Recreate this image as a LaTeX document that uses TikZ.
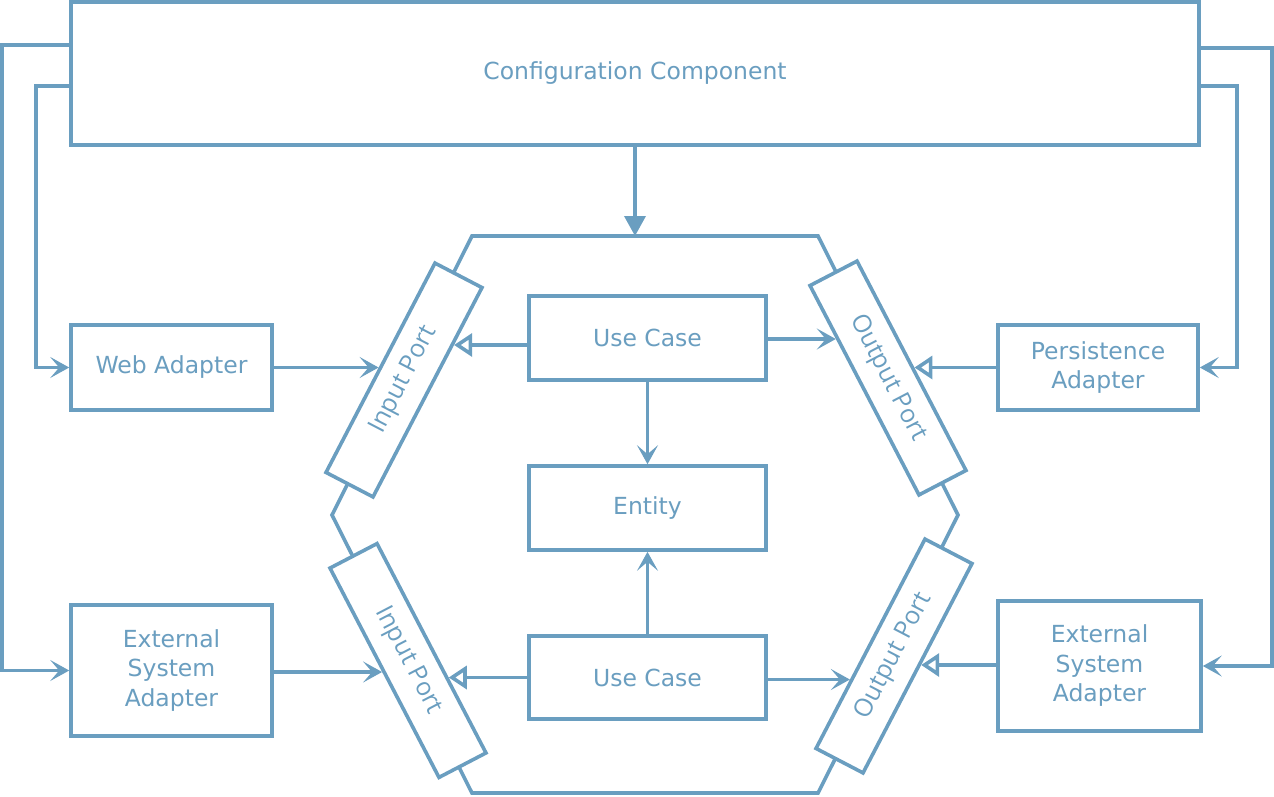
\documentclass[tikz,border=0pt]{standalone}
\usepackage{fontspec}
\setmainfont{DejaVu Sans}
\newfontfamily\portfont{Open Sans}
\usetikzlibrary{arrows.meta,intersections,calc}
\definecolor{bl}{HTML}{6A9EC0}
\newcommand\hcon[4]{%
  \path[name path=tmpline] #2 -- ++(#4,0);
  \path[name intersections={of=tmpline and #3, sort by=tmpline, by={tmpend}}];
  \draw[#1] #2 -- (tmpend);}
\begin{document}
\begin{tikzpicture}[x=1pt,y=-1pt,
  ln/.style={draw=bl,line width=3.6pt},
  box/.style={ln,fill=white,text=bl,font=\fontsize{23.5}{29.5}\selectfont,align=center,inner sep=0pt},
  portbox/.style={ln,fill=white,text=bl,font=\portfont\fontsize{25}{28}\selectfont,minimum width=236pt,minimum height=53pt,inner sep=0pt},
  arr/.style={ln,-{Stealth[length=19pt,width=21pt,inset=9pt]}},
  farr/.style={ln,-{Triangle[length=20pt,width=21pt]}},
  tri/.style={ln,-{Triangle[open,length=18pt,width=23pt]}},
]
\useasboundingbox (0,0) rectangle (1274,796);

% hexagon
\coordinate (h1) at (472,236);
\coordinate (h2) at (818,236);
\coordinate (h3) at (958,515);
\coordinate (h4) at (818,793);
\coordinate (h5) at (472,793);
\coordinate (h6) at (332,515);
\draw[ln,line join=miter] (h1) -- (h2) -- (h3) -- (h4) -- (h5) -- (h6) -- cycle;

% boxes
\node[box,minimum width=1128pt,minimum height=143pt] (config) at (635,73.5) {Configuration Component};
\node[box,minimum width=201pt,minimum height=85pt] (web) at (171.5,367.5) {Web Adapter};
\node[box,minimum width=201pt,minimum height=131pt] (extL) at (171.5,670.5) {External\\System\\Adapter};
\node[box,minimum width=200pt,minimum height=85pt] (pers) at (1098,367.5) {Persistence\\Adapter};
\node[box,minimum width=203pt,minimum height=130pt] (extR) at (1099.5,666) {External\\System\\Adapter};
\node[box,minimum width=237pt,minimum height=84pt] (uc1) at (647.5,338) {Use Case};
\node[box,minimum width=237pt,minimum height=84pt] (ent) at (647.5,508) {Entity};
\node[box,minimum width=237pt,minimum height=83pt] (uc2) at (647.5,677.5) {Use Case};

% ports
\node[portbox,rotate=62.5] (ip1) at (404,380) {Input Port};
\node[portbox,rotate=-62.5] (ip2) at (408,660.5) {Input Port};
\node[portbox,rotate=-62.5] (op1) at (888,378) {Output Port};
\node[portbox,rotate=62.5] (op2) at (894,656) {Output Port};

\foreach \p in {ip1,ip2,op1,op2}{
  \path[name path global=p\p] (\p.north west) -- (\p.north east) -- (\p.south east) -- (\p.south west) -- cycle;
}

% horizontal connectors to ports
\hcon{arr}{(web.east)}{pip1}{200}
\hcon{tri}{([yshift=-7pt]uc1.west)}{pip1}{-200}
\hcon{arr}{([yshift=-1pt]uc1.east)}{pop1}{200}
\hcon{tri}{(pers.west)}{pop1}{-200}
\hcon{tri}{(uc2.west)}{pip2}{-200}
\hcon{arr}{([yshift=-2pt]uc2.east)}{pop2}{200}
\hcon{tri}{([yshift=1pt]extR.west)}{pop2}{-200}
\hcon{arr}{([yshift=-1.5pt]extL.east)}{pip2}{200}

% use case to entity
\draw[arr] (uc1.south) -- (ent.north);
\draw[arr] (uc2.north) -- (ent.south);

% configuration connectors
\draw[farr] (config.south) -- (config.south |- h1);
\draw[arr] ([yshift=-45pt]config.north west) -- ++(-67,0) |- (extL.west);
\draw[arr] ([yshift=-86pt]config.north west) -- ++(-33,0) |- (web.west);
\draw[arr] ([yshift=-48pt]config.north east) -- ++(71,0) |- (extR.east);
\draw[arr] ([yshift=-86pt]config.north east) -- ++(36,0) |- (pers.east);
\end{tikzpicture}
\end{document}
